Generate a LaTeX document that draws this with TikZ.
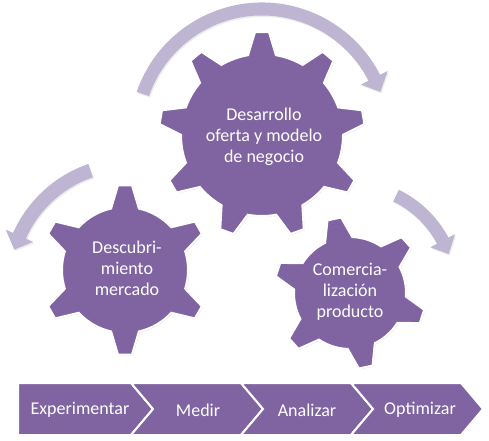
\documentclass[tikz,border=0pt]{standalone}
\usepackage{fontspec}
\setmainfont{Carlito}
\usetikzlibrary{shadows}

\definecolor{gearpurple}{RGB}{128,100,162}
\definecolor{arrowlilac}{RGB}{190,181,211}

\tikzset{
  gearshape/.style={fill=gearpurple, draw=white, line width=2pt, line join=miter,
    drop shadow={opacity=0.25, shadow xshift=1pt, shadow yshift=-1pt}},
  cyclearrow/.style={fill=arrowlilac,
    drop shadow={opacity=0.15, shadow xshift=1pt, shadow yshift=-1.5pt}},
  geartext/.style={text=white, align=center, font=\fontsize{18}{21}\selectfont},
  chevron/.style={fill=gearpurple, draw=white, line width=2pt, line join=miter},
  steptext/.style={text=white, font=\fontsize{18}{21}\selectfont}
}

% #1 centre, #2 teeth, #3 body radius, #4 tip radius, #5 angle of first tooth
\newcommand{\drawgear}[5]{%
  \pgfmathsetmacro{\gbase}{14/#3*180/pi}%
  \pgfmathsetmacro{\gtip}{7/#4*180/pi}%
  \pgfmathsetmacro{\gstep}{360/#2}%
  \pgfmathtruncatemacro{\glast}{#2-1}%
  \begin{scope}[shift={#1}]
    \path[gearshape] ({#5-\gbase}:#3)
      \foreach \i in {0,...,\glast} {
        -- ({#5+\i*\gstep-\gtip}:#4) -- ({#5+\i*\gstep+\gtip}:#4)
        -- ({#5+\i*\gstep+\gbase}:#3)
        arc[start angle={#5+\i*\gstep+\gbase}, end angle={#5+(\i+1)*\gstep-\gbase}, radius=#3]
      } -- cycle;
  \end{scope}}

% #1 centre, #2 mid radius, #3 half shaft, #4 half head, #5 tail, #6 head base, #7 tip
\newcommand{\drawcyclearrow}[7]{%
  \begin{scope}[shift={#1}]
    \path[cyclearrow] (#5:{#2+#3}) arc[start angle=#5, end angle=#6, radius={#2+#3}]
      -- (#6:{#2+#4}) -- (#7:#2) -- (#6:{#2-#4}) -- (#6:{#2-#3})
      arc[start angle=#6, end angle=#5, radius={#2-#3}] -- cycle;
  \end{scope}}

\begin{document}
\begin{tikzpicture}[x=1pt,y=1pt]
  \useasboundingbox (0,0) rectangle (489,440);

  \coordinate (gbig) at (262,305);
  \coordinate (gleft) at (125,170);
  \coordinate (gright) at (350,147);

  % arrows round the gears
  \drawcyclearrow{(gbig)}{126}{6.5}{15}{161}{27}{20}
  \drawcyclearrow{(130,155)}{121}{7}{15}{109}{156}{163}
  \drawcyclearrow{(350,150)}{105}{6.5}{14}{64}{28}{20}

  % gears
  \drawgear{(gbig)}{9}{81}{103}{90}
  \drawgear{(gleft)}{6}{63}{85}{90}
  \drawgear{(gright)}{6}{56}{76}{102}

  \node[geartext] (desarrollo) at (264,303) {Desarrollo\\oferta y modelo\\de negocio};
  \node[geartext] (descubrimiento) at (127,172) {Descubri-\\miento\\mercado};
  \node[geartext] (comercializacion) at (350,148) {Comercia-\\lización\\producto};

  % process bar
  \path[chevron] (18,57) -- (131,57) -- (153,31) -- (131,5) -- (18,5) -- cycle;
  \foreach \x in {131,241,351} {
    \path[chevron] (\x,57) -- (\x+110,57) -- (\x+132,31) -- (\x+110,5) -- (\x,5) -- (\x+22,31) -- cycle;
  }
  \node[steptext] (experimentar) at (80,30) {Experimentar};
  \node[steptext] (medir) at (198,30) {Medir};
  \node[steptext] (analizar) at (307,30) {Analizar};
  \node[steptext] (optimizar) at (420,30) {Optimizar};
\end{tikzpicture}
\end{document}
